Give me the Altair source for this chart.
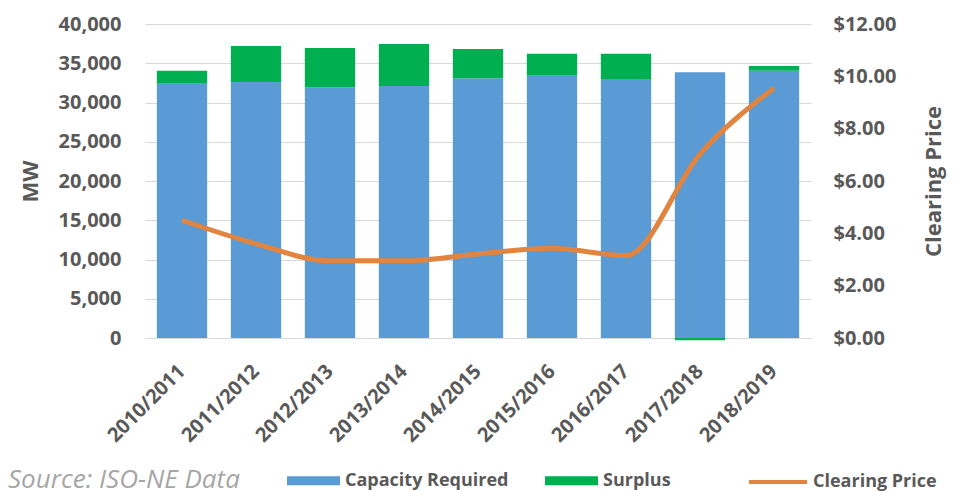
import altair as alt
import pandas as pd

seasons = ["2010/2011", "2011/2012", "2012/2013", "2013/2014", "2014/2015",
           "2015/2016", "2016/2017", "2017/2018", "2018/2019"]
capacity_required = [32400, 32600, 31900, 32100, 33100, 33400, 33000, 33850, 34050]
surplus = [1650, 4600, 5050, 5350, 3700, 2800, 3200, -300, 600]
clearing_price = [4.50, 3.60, 2.95, 2.95, 3.21, 3.43, 3.15, 7.03, 9.55]

bar_series = ["Capacity Required", "Surplus"]
bar_colors = ["#5B9BD5", "#00B050"]
line_series = ["Clearing Price"]
line_color = "#E0843F"

bar_rows = []
for s, c, sp in zip(seasons, capacity_required, surplus):
    bar_rows.append({"season": s, "series": bar_series[0], "mw": c, "ord": 0})
    bar_rows.append({"season": s, "series": bar_series[1], "mw": sp, "ord": 1})
bars_df = pd.DataFrame(bar_rows)
line_df = pd.DataFrame({"season": seasons, "price": clearing_price,
                        "series": [line_series[0]] * len(seasons)})
src_df = pd.DataFrame({"t": ["Source: ISO-NE Data"]})

FONT = "Open Sans"
GRAY = "#595959"
W, H = 666, 314
PL, PT = 137, 16

x_enc = alt.X(
    "season:N", sort=seasons,
    scale=alt.Scale(paddingInner=0.32, paddingOuter=0.16),
    axis=alt.Axis(title=None, labelAngle=-45, labelAlign="right", labelBaseline="middle",
                  labelPadding=30, labelFontSize=20, labelColor=GRAY, labelFont=FONT,
                  labelFontWeight="bold", ticks=False, domain=True, domainColor="#D9D9D9",
                  grid=False),
)

bars = alt.Chart(bars_df).mark_bar().encode(
    x=x_enc,
    y=alt.Y("mw:Q", stack="zero",
            scale=alt.Scale(domain=[0, 40000], nice=False),
            axis=alt.Axis(values=list(range(0, 40001, 5000)), format=",.0f", title="MW",
                          titleFontSize=22, titleFont=FONT, titleFontWeight="bold",
                          titleColor=GRAY, titleAngle=-90, titleX=-115, titleY=H / 2,
                          titleAlign="center", titleBaseline="middle",
                          labelFontSize=20, labelFont=FONT, labelFontWeight="bold",
                          labelColor=GRAY, labelPadding=24, ticks=False, domain=False,
                          grid=True, gridColor="#D9D9D9", gridWidth=1)),
    color=alt.Color("series:N",
                    scale=alt.Scale(domain=bar_series, range=bar_colors),
                    legend=alt.Legend(orient="none", legendX=142, legendY=430,
                                      direction="horizontal", title=None,
                                      labelFontSize=18, labelFont=FONT,
                                      labelFontWeight="bold", labelColor=GRAY,
                                      labelLimit=0,
                                      symbolType="M-1,-0.17h2v0.34h-2z",
                                      symbolSize=2809, symbolStrokeWidth=0,
                                      symbolOpacity=1,
                                      columnPadding=36, labelOffset=5, padding=0)),
    order=alt.Order("ord:Q"),
)

line = alt.Chart(line_df).mark_line(strokeWidth=5, interpolate="monotone").encode(
    x=x_enc,
    y=alt.Y("price:Q",
            scale=alt.Scale(domain=[0, 12], nice=False),
            axis=alt.Axis(orient="right", values=[0, 2, 4, 6, 8, 10, 12], format="$.2f",
                          title="Clearing Price", titleFontSize=22, titleFont=FONT,
                          titleFontWeight="bold", titleColor=GRAY, titleAngle=-90,
                          titleX=122, titleY=H / 2, titleAlign="center",
                          titleBaseline="middle",
                          labelFontSize=20, labelFont=FONT, labelFontWeight="bold",
                          labelColor=GRAY, labelPadding=22, ticks=False, domain=False,
                          grid=False)),
    stroke=alt.Stroke("series:N",
                      scale=alt.Scale(domain=line_series, range=[line_color]),
                      legend=alt.Legend(orient="none", legendX=602, legendY=427,
                                        direction="horizontal", title=None,
                                        labelFontSize=18, labelFont=FONT,
                                        labelFontWeight="bold", labelColor=GRAY,
                                        labelLimit=0,
                                        symbolType="stroke", symbolSize=3364,
                                        symbolStrokeWidth=4, labelOffset=4, padding=0)),
)

source = alt.Chart(src_df).mark_text(
    align="left", baseline="middle", fontStyle="italic", fontSize=26,
    font=FONT, color="#A6A6A6"
).encode(text="t:N", x=alt.value(8 - 145), y=alt.value(480 - 24))

chart = alt.layer(bars, line, source).resolve_scale(
    y="independent", color="independent", stroke="independent"
).properties(
    width=W, height=H,
    autosize=alt.AutoSizeParams(type="none"),
    padding={"left": PL, "top": PT, "right": 142, "bottom": 170},
).configure_view(stroke=None)

chart.save("out.html", embed_options={"renderer": "svg", "actions": False})
